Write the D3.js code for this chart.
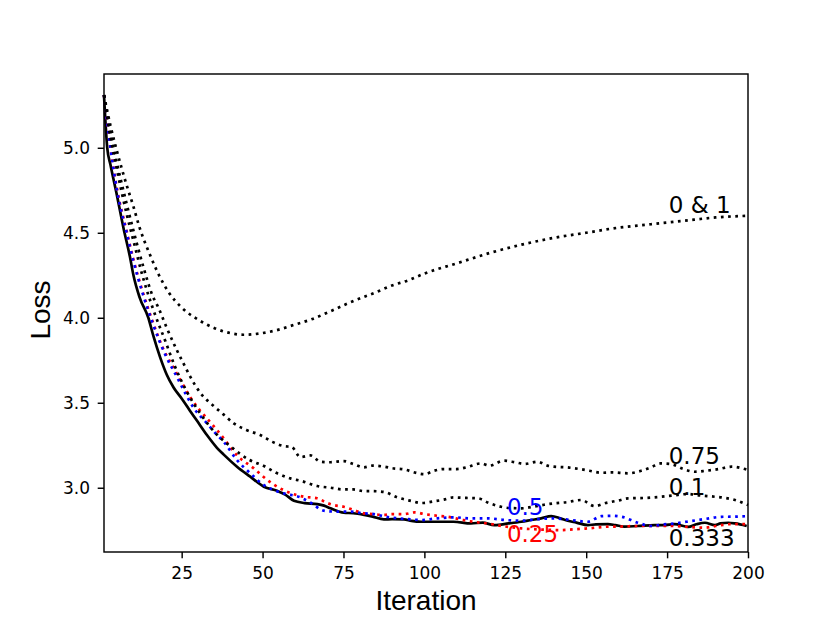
<!DOCTYPE html>
<html>
<head>
<meta charset="utf-8">
<script src="https://cdn.jsdelivr.net/npm/d3@7"></script>
<style>
  body { margin: 0; background: #fff; }
  .tick text { font-family: "DejaVu Sans", sans-serif; font-size: 17px; fill: #000; }
  .tick line { stroke: #000; stroke-width: 1.44px; }
  .lbl { font-family: "DejaVu Sans", sans-serif; font-size: 23px; }
  .axis-title { font-family: "Liberation Sans", Arial, sans-serif; font-size: 28px; fill: #000; }
</style>
</head>
<body>
<svg id="chart" width="831" height="621"></svg>
<script>
/* ------------------------------- data ------------------------------- */
// [iteration, loss]
const lossZeroOne = [[1,5.31],[3,5.13],[5,4.98],[8,4.78],[10,4.66],[12,4.53],[15,4.38],[18,4.25],[21,4.15],[25,4.06],[30,3.99],[35,3.94],[40,3.91],[44,3.90],[50,3.91],[55,3.93],[60,3.96],[65,3.99],[70,4.03],[77,4.09],[85,4.15],[90,4.19],[95,4.22],[100,4.26],[110,4.32],[120,4.38],[130,4.43],[140,4.47],[150,4.50],[160,4.53],[170,4.55],[180,4.57],[190,4.59],[200,4.60]];

const loss075 = [[1,5.31],[3,5.09],[5,4.91],[8,4.67],[10,4.52],[13,4.31],[16,4.13],[17.8,4.06],[20.4,3.94],[23.5,3.81],[25.6,3.73],[27.6,3.655],[30.7,3.56],[34.9,3.48],[38,3.43],[41,3.38],[45,3.34],[49.3,3.31],[53,3.27],[56.5,3.245],[59,3.24],[61.7,3.18],[64.8,3.19],[67.9,3.153],[71,3.15],[75,3.157],[78,3.14],[81.3,3.12],[84,3.13],[87.5,3.124],[90,3.115],[93.7,3.108],[97,3.09],[100,3.08],[103,3.10],[106,3.11],[110,3.11],[113,3.12],[117.5,3.143],[120,3.13],[124.6,3.159],[128,3.15],[131,3.14],[135,3.153],[138,3.13],[140,3.124],[144,3.12],[148,3.11],[151,3.10],[154.7,3.088],[158,3.09],[163,3.085],[167,3.10],[170,3.12],[173,3.143],[176,3.14],[180,3.11],[183.5,3.094],[187,3.10],[191,3.11],[195,3.124],[200,3.104]];

const loss01 = [[1,5.31],[3,5.06],[5,4.87],[8,4.61],[10,4.46],[13,4.24],[16,4.06],[20,3.86],[23,3.71],[26.6,3.565],[30.8,3.435],[36,3.31],[40,3.245],[43,3.20],[46,3.163],[50.4,3.128],[54,3.09],[58.6,3.055],[62,3.04],[66.9,3.01],[71,3.00],[75,2.99],[78,2.99],[81.4,2.98],[84,2.98],[87.4,2.976],[91.7,2.943],[95.8,2.923],[99,2.91],[103,2.92],[106,2.93],[109,2.943],[113,2.94],[116.5,2.938],[120,2.91],[123.7,2.888],[127,2.88],[130,2.879],[134,2.89],[137,2.90],[140,2.908],[144,2.915],[148.5,2.928],[152.6,2.892],[156,2.91],[160,2.925],[163,2.938],[168,2.94],[173,2.947],[177,2.955],[181.5,2.963],[185,2.955],[189.8,2.947],[193,2.94],[196,2.928],[200,2.898]];

const loss05 = [[1,5.31],[3,5.00],[5,4.75],[8,4.50],[10,4.34],[13,4.14],[16,3.97],[20,3.78],[23.5,3.653],[26,3.56],[28.7,3.47],[32.8,3.379],[35,3.33],[38,3.27],[42.1,3.163],[46.2,3.085],[50.4,3.016],[53,2.99],[56.5,2.967],[61.7,2.943],[65,2.91],[68.9,2.865],[72,2.86],[77.2,2.859],[81,2.85],[84.4,2.845],[88,2.83],[91.7,2.82],[95,2.815],[99,2.81],[104,2.82],[109,2.826],[114,2.82],[119.5,2.82],[125,2.81],[130,2.806],[135,2.815],[140,2.82],[145.4,2.81],[150.5,2.80],[154.7,2.833],[158,2.835],[161,2.829],[166,2.794],[170.2,2.775],[174,2.785],[177.4,2.79],[181,2.80],[184.6,2.81],[188,2.82],[191.8,2.829],[196,2.83],[200,2.833]];

const loss025 = [[1,5.31],[3,5.00],[5,4.76],[8,4.51],[10,4.35],[13,4.15],[16,3.98],[19,3.83],[22.5,3.705],[25,3.62],[27.6,3.535],[30,3.47],[32.8,3.408],[35,3.36],[38,3.29],[42.1,3.19],[47.3,3.114],[51.5,3.045],[56.5,2.986],[60,2.96],[62.8,2.947],[66.9,2.938],[70,2.91],[72,2.898],[75.1,2.888],[78,2.87],[81.4,2.849],[84,2.845],[87.5,2.84],[90,2.845],[93.7,2.845],[97,2.855],[100,2.845],[104,2.835],[107.2,2.829],[112,2.81],[115,2.80],[119.5,2.79],[124,2.775],[129.9,2.761],[135,2.755],[142.3,2.751],[146,2.755],[150.5,2.761],[156.7,2.771],[161,2.772],[166,2.775],[171,2.775],[176.3,2.775],[181,2.77],[186.6,2.765],[190,2.775],[194.9,2.786],[200,2.786]];

const loss0333 = [[1,5.31],[2,5.00],[3,4.90],[5,4.72],[7,4.53],[9,4.36],[10.1,4.25],[12,4.12],[14.7,4.00],[16.3,3.89],[18.3,3.77],[20.4,3.665],[22.5,3.59],[25,3.525],[27.5,3.455],[29.7,3.395],[32.8,3.31],[35.9,3.235],[38,3.195],[42.1,3.124],[46.2,3.065],[50.4,3.006],[54.5,2.982],[57,2.96],[59.7,2.923],[63,2.91],[66.9,2.904],[69,2.895],[71,2.879],[75.1,2.853],[78,2.85],[81.4,2.84],[84,2.83],[87.5,2.814],[90,2.815],[93.7,2.814],[96,2.805],[99,2.80],[104,2.80],[109,2.80],[114.4,2.79],[118,2.795],[121.6,2.78],[126,2.79],[129.9,2.80],[133,2.81],[136.1,2.82],[139.2,2.833],[142,2.82],[144.3,2.806],[147,2.795],[150.5,2.78],[153,2.785],[156.7,2.786],[159,2.78],[161.9,2.771],[166,2.775],[171.2,2.78],[174,2.78],[177.3,2.786],[181.5,2.77],[184,2.785],[186.7,2.794],[189.8,2.78],[191.5,2.79],[193.9,2.794],[196,2.79],[199.6,2.775]];

const xTicks = [25, 50, 75, 100, 125, 150, 175, 200];
const yTicks = [3.0, 3.5, 4.0, 4.5, 5.0];

// text annotations, in data coordinates
const labels = [
  {text: '0 & 1', x: 175.5, y: 4.616, color: '#000'},
  {text: '0.75',  x: 175.5, y: 3.14,  color: '#000'},
  {text: '0.1',   x: 175.5, y: 2.957, color: '#000'},
  {text: '0.5',   x: 125.5, y: 2.84,  color: 'blue'},
  {text: '0.25',  x: 125.5, y: 2.682, color: 'red'},
  {text: '0.333', x: 175.5, y: 2.657, color: '#000'}
];

/* ------------------------------- chart setup ------------------------- */
const svg = d3.select('#chart');
const L = 104, R = 748, T = 74, B = 552;

const x = d3.scaleLinear().domain([1, 200]).range([L, R]);
const y = d3.scaleLinear().domain([2.622, 5.434]).range([B, T]);

svg.append('rect').attr('width', 831).attr('height', 621).attr('fill', '#fff');

const line = d3.line()
  .curve(d3.curveMonotoneX)
  .x(d => x(d[0]))
  .y(d => y(d[1]));

const plot = svg.append('g');
const dotted = '2.7,4.5';
const series = [
  {data: loss0333,    color: '#000', dash: null},
  {data: loss025,     color: 'red',  dash: dotted},
  {data: loss05,      color: 'blue', dash: dotted},
  {data: loss01,      color: '#000', dash: dotted},
  {data: loss075,     color: '#000', dash: dotted},
  {data: lossZeroOne, color: '#000', dash: dotted}
];

series.forEach(s => {
  plot.append('path')
    .datum(s.data)
    .attr('d', line)
    .attr('fill', 'none')
    .attr('stroke', s.color)
    .attr('stroke-width', 2.7)
    .attr('stroke-dasharray', s.dash)
    .attr('stroke-linecap', 'butt');
});

plot.selectAll('text.lbl')
  .data(labels)
  .enter()
  .append('text')
  .attr('class', 'lbl')
  .attr('x', d => x(d.x))
  .attr('y', d => y(d.y))
  .attr('fill', d => d.color)
  .text(d => d.text);

/* ------------------------------- axes -------------------------------- */
const xAxisG = svg.append('g')
  .attr('transform', `translate(0,${B})`)
  .call(d3.axisBottom(x).tickValues(xTicks).tickSize(6.3).tickPadding(8.7));
const yAxisG = svg.append('g')
  .attr('transform', `translate(${L},0)`)
  .call(d3.axisLeft(y).tickValues(yTicks).tickFormat(d3.format('.1f')).tickSize(6.3).tickPadding(7.7));
xAxisG.select('.domain').remove();
yAxisG.select('.domain').remove();

svg.append('rect')
  .attr('x', L).attr('y', T)
  .attr('width', R - L).attr('height', B - T)
  .attr('fill', 'none')
  .attr('stroke', '#000')
  .attr('stroke-width', 1.44);

svg.append('text')
  .attr('class', 'axis-title')
  .attr('x', (L + R) / 2)
  .attr('y', 610)
  .attr('text-anchor', 'middle')
  .text('Iteration');

svg.append('text')
  .attr('class', 'axis-title')
  .attr('transform', 'translate(50,310) rotate(-90)')
  .attr('text-anchor', 'middle')
  .text('Loss');
</script>
</body>
</html>
